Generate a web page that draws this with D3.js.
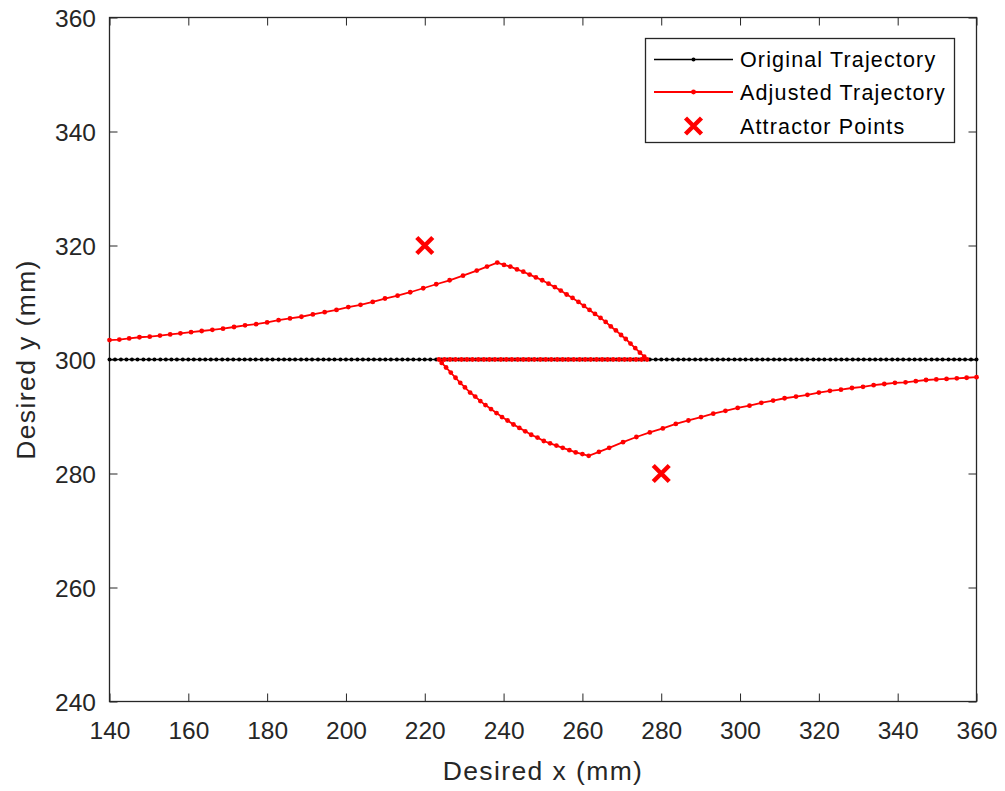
<!DOCTYPE html>
<html>
<head>
<meta charset="utf-8">
<script src="https://cdn.jsdelivr.net/npm/d3@7"></script>
<style>
  html, body { margin: 0; padding: 0; background: #fff; }
  svg { display: block; font-family: "Liberation Sans", Arial, Helvetica, sans-serif; }
</style>
</head>
<body>
<svg id="chart" width="1005" height="791"></svg>
<script>
// Original trajectory: straight pass along y = 300 mm
const originalX = [
  140, 141.4, 142.9, 144.3, 145.7, 147.1, 148.6,
  150, 151.4, 152.9, 154.3, 155.7, 157.1, 158.6,
  160, 161.4, 162.9, 164.3, 165.7, 167.1, 168.6,
  170, 171.4, 172.9, 174.3, 175.7, 177.1, 178.6,
  180, 181.4, 182.9, 184.3, 185.7, 187.1, 188.6,
  190, 191.4, 192.9, 194.3, 195.7, 197.1, 198.6,
  200, 201.4, 202.9, 204.3, 205.7, 207.1, 208.6,
  210, 211.4, 212.9, 214.3, 215.7, 217.1, 218.6,
  220, 221.4, 222.9, 224.3, 225.7, 227.1, 228.6,
  230, 231.4, 232.9, 234.3, 235.7, 237.1, 238.6,
  240, 241.4, 242.9, 244.3, 245.7, 247.1, 248.6,
  250, 251.4, 252.9, 254.3, 255.7, 257.1, 258.6,
  260, 261.4, 262.9, 264.3, 265.7, 267.1, 268.6,
  270, 271.4, 272.9, 274.3, 275.7, 277.1, 278.6,
  280, 281.4, 282.9, 284.3, 285.7, 287.1, 288.6,
  290, 291.4, 292.9, 294.3, 295.7, 297.1, 298.6,
  300, 301.4, 302.9, 304.3, 305.7, 307.1, 308.6,
  310, 311.4, 312.9, 314.3, 315.7, 317.1, 318.6,
  320, 321.4, 322.9, 324.3, 325.7, 327.1, 328.6,
  330, 331.4, 332.9, 334.3, 335.7, 337.1, 338.6,
  340, 341.4, 342.9, 344.3, 345.7, 347.1, 348.6,
  350, 351.4, 352.9, 354.3, 355.7, 357.1, 358.6,
  360
];
const originalY = [
  300, 300, 300, 300, 300, 300, 300, 300, 300, 300, 300, 300, 300, 300, 300, 300, 300, 300, 300, 300,
  300, 300, 300, 300, 300, 300, 300, 300, 300, 300, 300, 300, 300, 300, 300, 300, 300, 300, 300, 300,
  300, 300, 300, 300, 300, 300, 300, 300, 300, 300, 300, 300, 300, 300, 300, 300, 300, 300, 300, 300,
  300, 300, 300, 300, 300, 300, 300, 300, 300, 300, 300, 300, 300, 300, 300, 300, 300, 300, 300, 300,
  300, 300, 300, 300, 300, 300, 300, 300, 300, 300, 300, 300, 300, 300, 300, 300, 300, 300, 300, 300,
  300, 300, 300, 300, 300, 300, 300, 300, 300, 300, 300, 300, 300, 300, 300, 300, 300, 300, 300, 300,
  300, 300, 300, 300, 300, 300, 300, 300, 300, 300, 300, 300, 300, 300, 300, 300, 300, 300, 300, 300,
  300, 300, 300, 300, 300, 300, 300, 300, 300, 300, 300, 300, 300, 300, 300
];

// Adjusted trajectory, in drawing order
const adjustedX = [
  // pulled up towards the first attractor
  140.0, 142.5, 145.0, 147.6, 150.2, 152.8, 155.4, 158.0, 160.7, 163.4,
  166.1, 168.8, 171.6, 174.4, 177.2, 180.0, 182.9, 185.8, 188.7, 191.6,
  194.6, 197.6, 200.6, 203.7, 206.8, 209.9, 213.1, 216.3, 219.6, 222.9,
  226.3, 229.7, 233.2, 235.8, 238.4,
  // released back down to the nominal line
  240.1, 241.7, 243.4, 245.0, 246.6, 248.2, 249.8, 251.4, 253.0, 254.5,
  256.0, 257.5, 259.0, 260.4, 261.8, 263.2, 264.6, 265.9, 267.2, 268.5,
  269.8, 271.0, 272.2, 273.4, 274.6, 275.7, 276.4,
  // along the nominal line
  275.0, 273.6, 272.1, 270.7, 269.3, 267.8, 266.4, 265.0, 263.6, 262.1,
  260.7, 259.3, 257.8, 256.4, 255.0, 253.6, 252.1, 250.7, 249.3, 247.8,
  246.4, 245.0, 243.6, 242.1, 240.7, 239.3, 237.8, 236.4, 235.0, 233.6,
  232.1, 230.7, 229.3, 227.8, 226.4, 225.0, 223.6,
  // pulled down towards the second attractor
  224.3, 225.4, 226.6, 227.8, 229.0, 230.2, 231.5, 232.8, 234.1, 235.4,
  236.8, 238.2, 239.6, 241.0, 242.5, 244.0, 245.5, 247.0, 248.6, 250.2,
  251.8, 253.4, 255.0, 256.7, 258.3, 260.0, 261.6,
  // relaxing back towards the nominal line
  264.2, 266.8, 270.3, 273.7, 277.1, 280.4, 283.7, 286.9, 290.1, 293.2,
  296.3, 299.4, 302.4, 305.4, 308.4, 311.3, 314.2, 317.1, 320.0, 322.8,
  325.6, 328.4, 331.2, 333.9, 336.6, 339.3, 342.0, 344.6, 347.2, 349.8,
  352.4, 355.0, 357.5, 360.0
];
const adjustedY = [
  303.4, 303.5, 303.7, 303.9, 304.0, 304.2, 304.4, 304.6, 304.8, 305.0,
  305.2, 305.4, 305.7, 306.0, 306.2, 306.5, 306.9, 307.2, 307.5, 307.9,
  308.3, 308.7, 309.2, 309.6, 310.1, 310.7, 311.2, 311.8, 312.5, 313.2,
  313.9, 314.7, 315.6, 316.3, 317.0,
  316.6, 316.3, 315.8, 315.4, 314.9, 314.4, 313.9, 313.3, 312.7, 312.1,
  311.4, 310.8, 310.1, 309.4, 308.7, 308.0, 307.3, 306.6, 305.8, 305.1,
  304.3, 303.6, 302.8, 302.0, 301.2, 300.5, 300.0,
  300, 300, 300, 300, 300, 300, 300, 300, 300, 300,
  300, 300, 300, 300, 300, 300, 300, 300, 300, 300,
  300, 300, 300, 300, 300, 300, 300, 300, 300, 300,
  300, 300, 300, 300, 300, 300, 300,
  299.4, 298.6, 297.7, 296.8, 295.9, 295.1, 294.2, 293.5, 292.7, 292.0,
  291.3, 290.6, 289.9, 289.3, 288.6, 288.0, 287.4, 286.8, 286.3, 285.7,
  285.3, 284.9, 284.5, 284.1, 283.7, 283.4, 283.1,
  283.8, 284.5, 285.5, 286.4, 287.2, 287.9, 288.7, 289.3, 289.9, 290.5,
  291.0, 291.5, 291.9, 292.4, 292.8, 293.2, 293.5, 293.8, 294.2, 294.5,
  294.7, 295.0, 295.2, 295.5, 295.7, 295.9, 296.0, 296.2, 296.4, 296.5,
  296.6, 296.7, 296.8, 296.9
];

// Attractor points
const attractorX = [220, 280];
const attractorY = [320, 280];

// Axis ticks
const xTicks = [140, 160, 180, 200, 220, 240, 260, 280, 300, 320, 340, 360];
const yTicks = [240, 260, 280, 300, 320, 340, 360];

const legendLabels = ["Original Trajectory", "Adjusted Trajectory", "Attractor Points"];

// ---- layout ----
const plotLeft = 109.5, plotRight = 976.5, plotTop = 17.5, plotBottom = 701.5;
const axisColor = "#262626";

const svg = d3.select("#chart");

const x = d3.scaleLinear().domain([140, 360]).range([plotLeft, plotRight]);
const y = d3.scaleLinear().domain([240, 360]).range([plotBottom, plotTop]);

// ---- axes (ticks point inwards on all four sides) ----
function styleAxis(g) {
  g.select(".domain").remove();
  g.selectAll(".tick line").attr("stroke", axisColor).attr("stroke-width", 1);
  g.selectAll(".tick text")
    .attr("fill", axisColor)
    .style("font-size", "24.5px");
}

svg.append("g")
  .attr("transform", `translate(0,${plotBottom})`)
  .call(d3.axisBottom(x).tickValues(xTicks).tickSize(-8).tickPadding(20.5).tickFormat(d3.format("d")))
  .call(styleAxis);

svg.append("g")
  .attr("transform", `translate(0,${plotTop})`)
  .call(d3.axisTop(x).tickValues(xTicks).tickSize(-8).tickFormat(""))
  .call(styleAxis);

svg.append("g")
  .attr("transform", `translate(${plotLeft},0)`)
  .call(d3.axisLeft(y).tickValues(yTicks).tickSize(-8).tickPadding(13.5).tickFormat(d3.format("d")))
  .call(styleAxis)
  .call(g => g.selectAll(".tick text").attr("dy", "0.38em"));

svg.append("g")
  .attr("transform", `translate(${plotRight},0)`)
  .call(d3.axisRight(y).tickValues(yTicks).tickSize(-8).tickFormat(""))
  .call(styleAxis);

// axes box
svg.append("rect")
  .attr("x", plotLeft).attr("y", plotTop)
  .attr("width", plotRight - plotLeft).attr("height", plotBottom - plotTop)
  .attr("fill", "none")
  .attr("stroke", axisColor)
  .attr("stroke-width", 1.3);

// ---- axis labels ----
svg.append("text")
  .attr("x", (plotLeft + plotRight) / 2)
  .attr("y", 780)
  .attr("text-anchor", "middle")
  .attr("fill", axisColor)
  .style("font-size", "26.5px")
  .style("letter-spacing", "1.4px")
  .text("Desired x (mm)");

svg.append("text")
  .attr("transform", `translate(35,${(plotTop + plotBottom) / 2}) rotate(-90)`)
  .attr("text-anchor", "middle")
  .attr("fill", axisColor)
  .style("font-size", "26.5px")
  .style("letter-spacing", "1.4px")
  .text("Desired y (mm)");

// ---- data marks ----
const plot = svg.append("g");

const originalPts = originalX.map((v, i) => [v, originalY[i]]);
const adjustedPts = adjustedX.map((v, i) => [v, adjustedY[i]]);
const line = d3.line().x(d => x(d[0])).y(d => y(d[1]));

plot.append("path")
  .datum(originalPts)
  .attr("d", line)
  .attr("fill", "none")
  .attr("stroke", "#000")
  .attr("stroke-width", 1.6);

plot.append("g").selectAll("circle")
  .data(originalPts)
  .join("circle")
  .attr("cx", d => x(d[0]))
  .attr("cy", d => y(d[1]))
  .attr("r", 2.0)
  .attr("fill", "#000");

plot.append("path")
  .datum(adjustedPts)
  .attr("d", line)
  .attr("fill", "none")
  .attr("stroke", "#ff0000")
  .attr("stroke-width", 1.8);

plot.append("g").selectAll("circle")
  .data(adjustedPts)
  .join("circle")
  .attr("cx", d => x(d[0]))
  .attr("cy", d => y(d[1]))
  .attr("r", 2.4)
  .attr("fill", "#ff0000");

// cross marker
function cross(g, cx, cy, h) {
  g.append("path")
    .attr("d", `M${cx - h},${cy - h}L${cx + h},${cy + h}M${cx - h},${cy + h}L${cx + h},${cy - h}`)
    .attr("stroke", "#ff0000")
    .attr("stroke-width", 4.4)
    .attr("fill", "none");
}
attractorX.forEach((v, i) => cross(plot, x(v), y(attractorY[i]), 8));

// ---- legend ----
const lg = svg.append("g");
lg.append("rect")
  .attr("x", 645.5).attr("y", 38.5)
  .attr("width", 309).attr("height", 104)
  .attr("fill", "#fff")
  .attr("stroke", axisColor)
  .attr("stroke-width", 1.3);

const rowY = [59.5, 92, 126];
const sx0 = 654, sx1 = 733, sxm = (sx0 + sx1) / 2;

lg.append("line").attr("x1", sx0).attr("x2", sx1).attr("y1", rowY[0]).attr("y2", rowY[0])
  .attr("stroke", "#000").attr("stroke-width", 1.6);
lg.append("circle").attr("cx", sxm).attr("cy", rowY[0]).attr("r", 2.0).attr("fill", "#000");

lg.append("line").attr("x1", sx0).attr("x2", sx1).attr("y1", rowY[1]).attr("y2", rowY[1])
  .attr("stroke", "#ff0000").attr("stroke-width", 1.8);
lg.append("circle").attr("cx", sxm).attr("cy", rowY[1]).attr("r", 2.4).attr("fill", "#ff0000");

cross(lg, sxm, rowY[2], 8);

lg.selectAll("text.label")
  .data(legendLabels)
  .join("text")
  .attr("class", "label")
  .attr("x", 740)
  .attr("y", (d, i) => rowY[i] + 7.7)
  .attr("fill", "#000")
  .style("font-size", "21.5px")
  .style("letter-spacing", "1.15px")
  .text(d => d);
</script>
</body>
</html>
